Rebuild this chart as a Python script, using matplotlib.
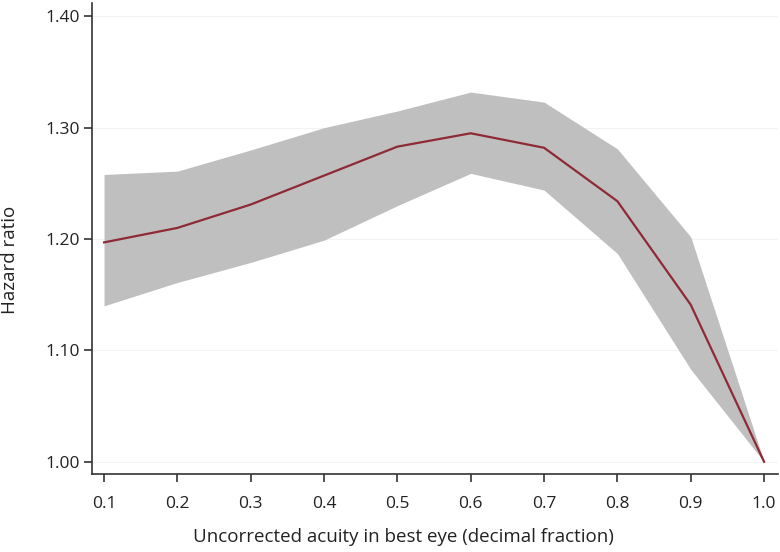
import matplotlib
matplotlib.use("Agg")
import matplotlib.pyplot as plt

# acuity levels and hazard ratios
acuity = [0.1, 0.2, 0.3, 0.4, 0.5, 0.6, 0.7, 0.8, 0.9, 1.0]
hr = [1.197, 1.210, 1.231, 1.257, 1.283, 1.295, 1.282, 1.234, 1.141, 1.000]
ci_upper = [1.258, 1.261, 1.280, 1.300, 1.315, 1.332, 1.323, 1.281, 1.202, 1.000]
ci_lower = [1.140, 1.161, 1.179, 1.199, 1.230, 1.259, 1.244, 1.187, 1.083, 1.000]

x_ticks = [0.1, 0.2, 0.3, 0.4, 0.5, 0.6, 0.7, 0.8, 0.9, 1.0]
y_ticks = [1.00, 1.10, 1.20, 1.30, 1.40]

plt.rcParams['font.family'] = ['Open Sans', 'DejaVu Sans']

W, H = 780, 552
fig = plt.figure(figsize=(W / 100, H / 100), dpi=100)
ax = fig.add_axes([92 / W, 1 - 474 / H, (778 - 92) / W, (474 - 3) / H])

ax.fill_between(acuity, ci_lower, ci_upper, color='#c0bfbf', linewidth=0)
ax.plot(acuity, hr, color='#8e2a36', linewidth=1.6)

for yt in y_ticks:
    ax.axhline(yt, color='#f3f3f3', linewidth=0.8, zorder=0)

ax.set_xlim(0.0836, 1.019)
ax.set_ylim(0.989, 1.412)
ax.set_xticks(x_ticks)
ax.set_xticklabels([f"{v:.1f}" for v in x_ticks])
ax.set_yticks(y_ticks)
ax.set_yticklabels([f"{v:.2f}" for v in y_ticks])

for side in ['top', 'right']:
    ax.spines[side].set_visible(False)
for side in ['left', 'bottom']:
    ax.spines[side].set_color('#333333')
    ax.spines[side].set_linewidth(1.2)

ax.tick_params(axis='both', labelsize=12.5, color='#333333', width=1.2,
               length=6, labelcolor='#222222')
ax.tick_params(axis='x', pad=10)
ax.tick_params(axis='y', pad=3)

# axis titles sit a bit off-centre in the original
fig.text(403 / W, 1 - 537 / H, 'Uncorrected acuity in best eye (decimal fraction)',
         fontsize=13.5, color='#222222', ha='center', va='center')
fig.text(10 / W, 1 - 260 / H, 'Hazard ratio', fontsize=13.5, color='#222222',
         ha='center', va='center', rotation=90)

fig.savefig('out.png', dpi=100)
